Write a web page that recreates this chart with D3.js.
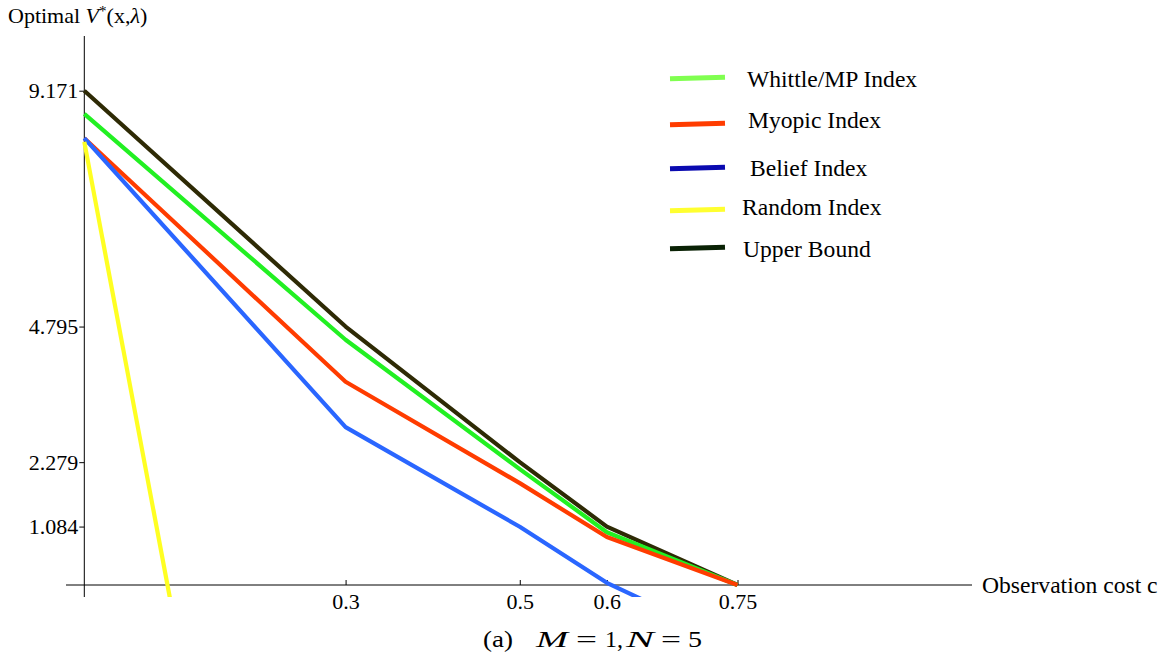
<!DOCTYPE html>
<html>
<head>
<meta charset="utf-8">
<script src="https://cdn.jsdelivr.net/npm/d3@7"></script>
<style>
  body { margin: 0; background: #fff; }
  text { font-family: "Liberation Serif", "Times New Roman", serif; fill: #000; }
</style>
</head>
<body>
<script>
// observation cost c (x positions of the computed points)
const costs = [0, 0.3, 0.5, 0.6, 0.75];

// series values
const upperBound = [9.171, 4.795, 2.279, 1.084, 0];
const whittle = [8.74, 4.55, 2.15, 0.98, 0];
const myopic = [8.29, 3.77, 1.89, 0.89, 0];
const belief = [8.29, 2.93, 1.08, 0.04, -1.1];
const randomIdx = [8.22, -17.6, null, null, null];

// axis tick labels
const xTicks = [0.3, 0.5, 0.6, 0.75];
const yTicks = [1.084, 2.279, 4.795, 9.171];

const legendNames = ['Whittle/MP Index', 'Myopic Index', 'Belief Index', 'Random Index', 'Upper Bound'];

const width = 1166, height = 661;

const svg = d3.select('body').append('svg')
  .attr('width', width)
  .attr('height', height);

// scales (origin of the axes is at c = 0, V = 0)
const x = d3.scaleLinear().domain([0, 0.75]).range([84.3, 737.5]);
const y = d3.scaleLinear().domain([0, 9.171]).range([585, 90.7]);

// plot region in data units (Mathematica clips the curves to it)
const xMin = x.invert(66), xMax = x.invert(972);
const yMin = y.invert(597), yMax = y.invert(36);

svg.append('clipPath').attr('id', 'plotclip')
  .append('rect')
  .attr('x', x(xMin)).attr('y', y(yMax))
  .attr('width', x(xMax) - x(xMin))
  .attr('height', y(yMin) - y(yMax));

// axis lines
svg.append('line')
  .attr('x1', x(xMin)).attr('x2', x(xMax))
  .attr('y1', y(0)).attr('y2', y(0))
  .attr('stroke', '#000').attr('stroke-width', 1);
svg.append('line')
  .attr('x1', x(0)).attr('x2', x(0))
  .attr('y1', y(yMin)).attr('y2', y(yMax))
  .attr('stroke', '#000').attr('stroke-width', 1);

// x axis ticks point up into the plot
const xAxis = svg.append('g')
  .attr('transform', `translate(0,${y(0)})`)
  .call(d3.axisBottom(x)
    .tickValues(xTicks)
    .tickFormat(d => String(d))
    .tickSizeInner(-5)
    .tickSizeOuter(0)
    .tickPadding(8));

const yAxis = svg.append('g')
  .attr('transform', `translate(${x(0)},0)`)
  .call(d3.axisLeft(y)
    .tickValues(yTicks)
    .tickFormat(d => String(d))
    .tickSizeInner(5)
    .tickSizeOuter(0)
    .tickPadding(1));

[xAxis, yAxis].forEach(function(g) {
  g.select('.domain').remove();
  g.selectAll('.tick line').attr('stroke', '#000');
  g.selectAll('.tick text')
    .style('font-family', '"Liberation Serif", serif')
    .style('font-size', '22px')
    .attr('fill', '#000');
});

// axis titles
const yTitle = svg.append('text')
  .attr('x', 8).attr('y', 23)
  .style('font-size', '22px');
yTitle.append('tspan').text('Optimal ');
yTitle.append('tspan').style('font-style', 'italic').text('V');
yTitle.append('tspan').attr('dy', -7).style('font-size', '15px').text('*');
yTitle.append('tspan').attr('dy', 7).text('(x,');
yTitle.append('tspan').style('font-style', 'italic').text('λ');
yTitle.append('tspan').text(')');

svg.append('text')
  .attr('x', 982).attr('y', y(0) + 8)
  .style('font-size', '23.6px')
  .text('Observation cost c');

// curves, drawn in the order Mathematica stacks them
const series = [
  { values: upperBound, color: '#2e2a05' },
  { values: whittle, color: '#22f022' },
  { values: myopic, color: '#ff3c00' },
  { values: belief, color: '#2a66ff' },
  { values: randomIdx, color: '#ffff22' }
];

const line = d3.line()
  .defined(d => d.v != null)
  .x(d => x(d.c))
  .y(d => y(d.v));

const plot = svg.append('g').attr('clip-path', 'url(#plotclip)');

plot.selectAll('path.curve')
  .data(series)
  .enter().append('path')
  .attr('class', 'curve')
  .attr('fill', 'none')
  .attr('stroke', d => d.color)
  .attr('stroke-width', 4.2)
  .attr('stroke-linejoin', 'round')
  .attr('d', d => line(costs.map((c, i) => ({ c: c, v: d.values[i] }))));

// legend (a pasted-in image in the original, so its colours differ a bit)
const legendColors = ['#80ff50', '#ff3c00', '#0a0ab0', '#ffff30', '#0a2205'];
const legendLineY = [78, 124, 168, 210, 248];
const legendTextX = [747, 748, 750, 742, 743];
const legendTextY = [87, 128, 176, 215, 257];

const legend = svg.append('g');
legendNames.forEach(function(name, i) {
  legend.append('line')
    .attr('x1', 670).attr('x2', 725)
    .attr('y1', legendLineY[i] + 0.8).attr('y2', legendLineY[i] - 0.8)
    .attr('stroke', legendColors[i])
    .attr('stroke-width', 5);
  legend.append('text')
    .attr('x', legendTextX[i]).attr('y', legendTextY[i])
    .style('font-size', '23.6px')
    .text(name);
});

// caption, laid out piece by piece like the (stretched) TeX original
const capParts = [
  { t: '(a)', x: 483, w: 30, italic: false },
  { t: 'M', x: 536, w: 32, italic: true },
  { t: '=', x: 576, w: 21, italic: false },
  { t: '1,', x: 605, w: 18, italic: false },
  { t: 'N', x: 626, w: 28, italic: true },
  { t: '=', x: 661, w: 20, italic: false },
  { t: '5', x: 688, w: 14, italic: false }
];
const caption = svg.append('g');
capParts.forEach(function(p) {
  caption.append('text')
    .attr('x', p.x).attr('y', 647)
    .attr('textLength', p.w)
    .attr('lengthAdjust', 'spacingAndGlyphs')
    .style('font-size', '23px')
    .style('font-style', p.italic ? 'italic' : 'normal')
    .text(p.t);
});
</script>
</body>
</html>
